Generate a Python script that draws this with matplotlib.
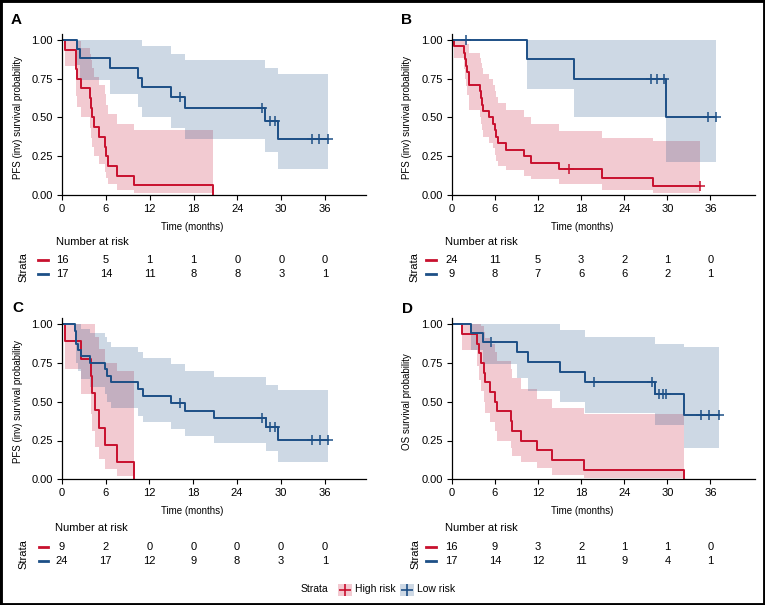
import matplotlib
matplotlib.use('Agg')
import matplotlib.pyplot as plt
import numpy as np
from matplotlib.patches import Rectangle
from matplotlib.lines import Line2D
from matplotlib.transforms import blended_transform_factory

plt.rcParams['font.family'] = ['Liberation Sans', 'DejaVu Sans']

RED = '#C8102E'
BLUE = '#1D4F86'

risk_times = [0, 6, 12, 18, 24, 30, 36]

# ---- panel A : PFS (inv) ----
a_high_t = [0, 0.46, 1.9, 1.95, 2.1, 2.55, 3.83, 3.97, 4.15, 4.43, 5.06, 5.95, 6.05, 6.25, 7.57, 9.85, 20.6]
a_high_s = [1, .9375, .875, .8125, .75, .6875, .625, .5625, .5, .4375, .375, .3125, .25, .1875, .125, .0625, 0]
a_high_lo = [1, .83, .73, .64, .57, .50, .43, .37, .31, .25, .20, .15, .11, .07, .03, .01, 0]
a_high_hi = [1, 1, 1, 1, .99, .95, .91, .87, .82, .76, .71, .65, .58, .52, .46, .42, 0]
a_high_cens = []
a_low_t = [0, 2.0, 2.4, 6.6, 10.45, 11.0, 14.9, 16.8, 27.8, 29.5, 36.45]
a_low_s = [1, .941, .882, .819, .756, .693, .630, .560, .480, .360, .360]
a_low_lo = [1, .84, .74, .65, .57, .50, .43, .36, .28, .165, .165]
a_low_hi = [1, 1, 1, 1, 1, .96, .91, .87, .82, .78, .78]
a_low_cens = [16.15, 27.3, 28.4, 29.2, 34.2, 35.2, 36.45]
a_risk_high = [16, 5, 1, 1, 0, 0, 0]
a_risk_low = [17, 14, 11, 8, 8, 3, 1]

# ---- panel B : PFS (inv) ----
b_high_t = [0, .32, 1.72, 1.8, 1.95, 2.1, 2.4, 2.45, 3.9, 4.05, 4.2, 4.4, 5.15, 5.7, 6.05, 6.2, 6.5,
            7.6, 10.05, 11.0, 14.9, 20.85, 28.0, 34.5]
b_high_s = [1, .958, .917, .875, .833, .792, .75, .708, .667, .625, .583, .542, .5, .458, .417, .375, .333,
            .292, .25, .208, .167, .111, .056, .056]
b_high_lo = [1, .88, .81, .75, .70, .645, .595, .55, .50, .46, .42, .375, .335, .30, .26, .22, .19,
             .16, .125, .10, .07, .035, .01, .01]
b_high_hi = [1, 1, 1, 1, 1, .97, .945, .915, .885, .85, .82, .78, .745, .71, .67, .63, .59,
             .545, .50, .455, .41, .37, .35, .35]
b_high_cens = [16.3, 34.5]
b_low_t = [0, 10.5, 17.0, 29.8, 36.8]
b_low_s = [1, .875, .75, .5, .5]
b_low_lo = [1, .68, .50, .21, .21]
b_low_hi = [1, 1, 1, 1, 1]
b_low_cens = [2.0, 27.7, 28.5, 29.55, 35.6, 36.8]
b_risk_high = [24, 11, 5, 3, 2, 1, 0]
b_risk_low = [9, 8, 7, 6, 6, 2, 1]

# ---- panel C : PFS (inv) ----
c_high_t = [0, .5, 2.6, 3.97, 4.15, 4.5, 5.1, 5.9, 7.6, 9.88]
c_high_s = [1, .889, .778, .667, .556, .444, .333, .222, .111, 0]
c_high_lo = [1, .71, .55, .42, .31, .21, .13, .065, .02, 0]
c_high_hi = [1, 1, 1, 1, 1, .92, .84, .75, .70, 0]
c_high_cens = []
c_low_t = [0, 1.85, 1.9, 1.96, 2.2, 2.65, 3.9, 5.95, 6.25, 6.75, 10.5, 11.1, 14.9, 16.9, 20.8, 27.9, 29.55, 36.5]
c_low_s = [1, .958, .917, .875, .833, .792, .75, .708, .667, .625, .58, .536, .491, .442, .393, .337, .253, .253]
c_low_lo = [1, .88, .81, .75, .70, .645, .595, .55, .50, .46, .41, .37, .325, .28, .235, .185, .11, .11]
c_low_hi = [1, 1, 1, 1, 1, .97, .945, .915, .885, .85, .82, .78, .74, .70, .66, .61, .575, .575]
c_low_cens = [16.2, 27.4, 28.5, 29.2, 34.3, 35.3, 36.5]
c_risk_high = [9, 2, 0, 0, 0, 0, 0]
c_risk_low = [24, 17, 12, 9, 8, 3, 1]

# ---- panel D : OS ----
d_high_t = [0, 1.5, 3.5, 3.85, 4.1, 4.5, 4.6, 5.35, 6.05, 6.25, 8.3, 8.45, 9.65, 11.85, 13.95, 18.4, 32.3]
d_high_s = [1, .9375, .875, .8125, .75, .6875, .625, .5625, .5, .4375, .375, .3125, .25, .1875, .125, .0625, 0]
d_high_lo = [1, .83, .73, .64, .57, .50, .43, .37, .31, .25, .20, .15, .11, .07, .03, .01, 0]
d_high_hi = [1, 1, 1, 1, .99, .95, .91, .87, .82, .76, .71, .65, .58, .52, .46, .42, 0]
d_high_cens = []
d_low_t = [0, 2.65, 4.3, 9.05, 10.6, 15.1, 18.5, 28.25, 32.3, 37.15]
d_low_s = [1, .941, .882, .819, .756, .693, .630, .551, .413, .413]
d_low_lo = [1, .835, .74, .65, .57, .50, .43, .35, .20, .20]
d_low_hi = [1, 1, 1, 1, 1, .96, .92, .87, .85, .85]
d_low_cens = [5.4, 19.8, 27.9, 28.9, 29.35, 29.8, 34.75, 35.75, 37.15]
d_risk_high = [16, 9, 3, 2, 1, 1, 0]
d_risk_low = [17, 14, 12, 11, 9, 4, 1]

W, H = 765, 605
fig = plt.figure(figsize=(W / 100, H / 100), dpi=100)


def fx(px):
    return px / W


def fy(py):
    return 1 - py / H


def km(ax, t, s, lo, hi, cens, color):
    ax.fill_between(t, lo, hi, step='post', color=color, alpha=0.22, lw=0)
    ax.step(t, s, where='post', color=color, lw=1.4)
    if len(cens):
        idx = np.searchsorted(t, cens, side='right') - 1
        ax.plot(cens, np.array(s)[idx], '+', color=color, ms=7, mew=1.1)


# layout in pixels: left, width, bottom(y=0), xmax, ylabel x, xlabel (x,y), letter (x,y),
# number-at-risk (x,y), rows y, dash x, strata x
panels = [
    dict(letter='A', left=62, width=304, bottom=195, xmax=41.6, ylab='PFS (inv) survival probability',
         ylx=18.5, xl=(192, 227), let=(11, 24), nar=(56, 242), rows=(260, 274.3), dash=(38, 48), stx=23,
         high=(a_high_t, a_high_s, a_high_lo, a_high_hi, a_high_cens),
         low=(a_low_t, a_low_s, a_low_lo, a_low_hi, a_low_cens), rh=a_risk_high, rl=a_risk_low),
    dict(letter='B', left=451.7, width=303.3, bottom=195, xmax=42.2, ylab='PFS (inv) survival probability',
         ylx=407.5, xl=(582, 227), let=(401, 24), nar=(445, 242), rows=(260, 274.3), dash=(426, 436), stx=414,
         high=(b_high_t, b_high_s, b_high_lo, b_high_hi, b_high_cens),
         low=(b_low_t, b_low_s, b_low_lo, b_low_hi, b_low_cens), rh=b_risk_high, rl=b_risk_low),
    dict(letter='C', left=61.7, width=304, bottom=479.3, xmax=41.6, ylab='PFS (inv) survival probability',
         ylx=18.5, xl=(192, 511), let=(12, 312), nar=(55, 528), rows=(547, 561), dash=(39, 48), stx=23,
         high=(c_high_t, c_high_s, c_high_lo, c_high_hi, c_high_cens),
         low=(c_low_t, c_low_s, c_low_lo, c_low_hi, c_low_cens), rh=c_risk_high, rl=c_risk_low),
    dict(letter='D', left=451.7, width=303.3, bottom=479.3, xmax=42.2, ylab='OS survival probability',
         ylx=407.5, xl=(582, 511), let=(402, 313), nar=(445, 528), rows=(547, 561), dash=(426, 436), stx=415,
         high=(d_high_t, d_high_s, d_high_lo, d_high_hi, d_high_cens),
         low=(d_low_t, d_low_s, d_low_lo, d_low_hi, d_low_cens), rh=d_risk_high, rl=d_risk_low),
]

ypx = 155.2  # pixels per unit survival
for p in panels:
    hgt = 1.04 * ypx
    ax = fig.add_axes([fx(p['left']), fy(p['bottom']), fx(p['width']), hgt / H])
    km(ax, *p['high'], RED)
    km(ax, *p['low'], BLUE)
    ax.set_xlim(0, p['xmax'])
    ax.set_ylim(0, 1.04)
    ax.set_xticks(risk_times)
    ax.set_yticks([0, .25, .5, .75, 1])
    ax.set_yticklabels(['0.00', '0.25', '0.50', '0.75', '1.00'])
    for sp in ['top', 'right']:
        ax.spines[sp].set_visible(False)
    for sp in ['left', 'bottom']:
        ax.spines[sp].set_linewidth(0.9)
    ax.tick_params(labelsize=8, length=3.5, width=0.8, pad=3)

    top = p['bottom'] - hgt
    fig.text(fx(p['ylx']), fy((top + p['bottom']) / 2 + 3), p['ylab'], rotation=90,
             ha='center', va='center', fontsize=7)
    fig.text(fx(p['xl'][0]), fy(p['xl'][1]), 'Time (months)', ha='center', va='center', fontsize=7)
    fig.text(fx(p['let'][0]), fy(p['let'][1]), p['letter'], ha='left', va='baseline',
             fontsize=11, fontweight='bold')

    # number at risk table
    fig.text(fx(p['nar'][0]), fy(p['nar'][1]), 'Number at risk', ha='left', va='center', fontsize=8)
    tr = blended_transform_factory(ax.transData, fig.transFigure)
    for row_y, counts, col in [(p['rows'][0], p['rh'], RED), (p['rows'][1], p['rl'], BLUE)]:
        for t, n in zip(risk_times, counts):
            ax.text(t, fy(row_y), str(n), transform=tr, ha='center', va='center', fontsize=8)
        fig.add_artist(Line2D([fx(p['dash'][0]), fx(p['dash'][1])], [fy(row_y), fy(row_y)],
                              color=col, lw=2, transform=fig.transFigure))
    fig.text(fx(p['stx']), fy(sum(p['rows']) / 2), 'Strata', rotation=90, ha='center', va='center',
             fontsize=8)

# legend at bottom
ly = 589.5
fig.text(fx(301), fy(ly), 'Strata', ha='left', va='center', fontsize=7.5)
for x0, col, lab in [(338, RED, 'High risk'), (400, BLUE, 'Low risk')]:
    fig.add_artist(Rectangle((fx(x0), fy(ly + 6)), fx(14), 12 / H, transform=fig.transFigure,
                             facecolor=col, alpha=0.22, lw=0))
    fig.add_artist(Line2D([fx(x0 + 7)], [fy(ly)], marker='+', ms=9, mew=1.2, color=col,
                          transform=fig.transFigure))
    fig.text(fx(x0 + 17), fy(ly), lab, ha='left', va='center', fontsize=7.5)

# outer frame
fig.add_artist(Rectangle((0, 0), 1, 1, transform=fig.transFigure, fill=False, edgecolor='black', lw=3.5))

fig.savefig('out.png', dpi=100)
